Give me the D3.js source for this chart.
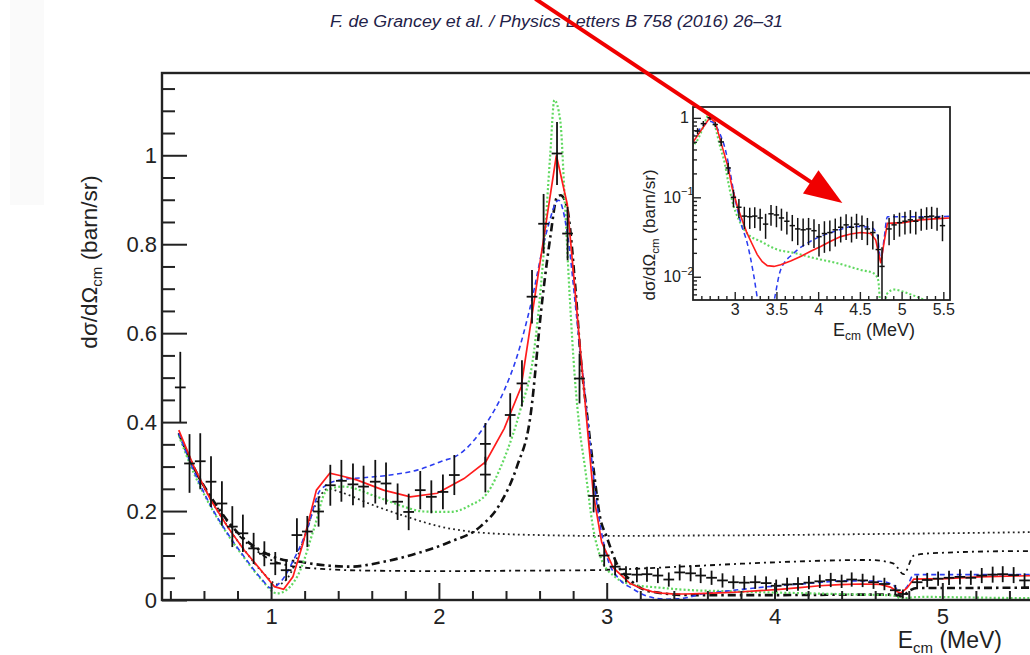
<!DOCTYPE html>
<html><head><meta charset="utf-8">
<script src="https://cdn.jsdelivr.net/npm/d3@7"></script>
<style>body{margin:0;background:#fff;overflow:hidden}svg{display:block}</style>
</head><body><svg id="c" width="1030" height="655"></svg>
<script>
// ---------------- data ----------------
const headerText = "F. de Grancey et al. / Physics Letters B 758 (2016) 26–31";

const dataE = [0.459,0.514,0.578,0.642,0.707,0.769,0.832,0.896,0.960,1.025,1.090,1.154,1.216,1.283,1.353,1.419,1.488,1.551,1.621,1.685,1.754,1.820,1.889,1.955,2.024,2.092,2.277,2.277,2.425,2.495,2.555,2.624,2.704,2.767,2.838,2.922,2.985,3.05,3.115,3.18,3.24,3.305,3.37,3.435,3.5,3.56,3.625,3.69,3.755,3.82,3.885,3.95,4.01,4.075,4.14,4.205,4.27,4.335,4.4,4.46,4.525,4.59,4.655,4.72,4.765,4.85,4.91,4.975,5.04,5.105,5.17,5.235,5.3,5.36,5.425,5.49];
const dataV = [0.478,0.307,0.312,0.266,0.217,0.165,0.150,0.116,0.104,0.082,0.067,0.146,0.154,0.199,0.258,0.268,0.260,0.255,0.266,0.262,0.221,0.198,0.247,0.232,0.243,0.281,0.351,0.282,0.416,0.487,0.682,0.846,1.004,0.824,0.498,0.234,0.10,0.075,0.058,0.057,0.058,0.055,0.046,0.062,0.060,0.055,0.050,0.044,0.040,0.039,0.040,0.038,0.032,0.035,0.036,0.039,0.042,0.045,0.042,0.046,0.044,0.040,0.036,0.022,0.0135,0.040,0.045,0.048,0.050,0.052,0.050,0.055,0.057,0.058,0.056,0.044];
const dataErr = [0.080,0.066,0.063,0.057,0.050,0.046,0.042,0.035,0.028,0.026,0.023,0.038,0.035,0.034,0.046,0.047,0.047,0.047,0.049,0.047,0.041,0.041,0.043,0.037,0.039,0.045,0.047,0.040,0.049,0.052,0.060,0.067,0.071,0.060,0.056,0.037,0.025,0.02,0.018,0.017,0.017,0.017,0.016,0.018,0.018,0.017,0.016,0.016,0.015,0.015,0.015,0.015,0.014,0.015,0.015,0.015,0.015,0.016,0.015,0.016,0.015,0.015,0.014,0.012,0.01,0.015,0.016,0.016,0.016,0.017,0.016,0.017,0.018,0.018,0.018,0.016];
const binHalf = 0.032;

const redE = [0.45,0.54,0.64,0.74,0.84,0.94,1.02,1.075,1.13,1.19,1.27,1.35,1.41,1.51,1.67,1.83,1.99,2.15,2.28,2.39,2.49,2.70,2.765,2.92,2.97,3.04,3.14,3.2,3.27,3.33,3.39,3.47,3.55,3.67,3.79,3.91,4.03,4.15,4.27,4.39,4.51,4.63,4.69,4.75,4.79,4.83,5.02,5.22,5.44,5.6];
const redV = [0.382,0.300,0.225,0.165,0.112,0.067,0.030,0.024,0.052,0.127,0.247,0.285,0.280,0.270,0.247,0.232,0.240,0.273,0.311,0.386,0.479,1.0,0.89,0.24,0.13,0.072,0.037,0.027,0.019,0.0155,0.0138,0.0135,0.0142,0.0158,0.018,0.021,0.024,0.028,0.032,0.0345,0.036,0.035,0.029,0.0148,0.027,0.047,0.048,0.052,0.054,0.055];

const blueE = [0.45,0.54,0.64,0.74,0.84,0.94,1.0,1.06,1.134,1.214,1.293,1.41,1.55,1.71,1.87,2.01,2.13,2.27,2.39,2.465,2.545,2.644,2.713,2.763,2.823,2.882,2.94,3.0,3.08,3.15,3.23,3.29,3.35,3.42,3.48,3.55,3.71,3.91,4.19,4.43,4.63,4.71,4.75,4.79,4.83,5.02,5.4,5.6];
const blueV = [0.375,0.29,0.212,0.15,0.097,0.049,0.027,0.042,0.09,0.157,0.247,0.27,0.275,0.281,0.292,0.311,0.33,0.39,0.472,0.547,0.66,0.831,0.899,0.831,0.629,0.42,0.22,0.1,0.045,0.0265,0.0101,0.004,0.0018,0.0025,0.0055,0.0122,0.0199,0.028,0.037,0.043,0.042,0.033,0.016,0.03,0.057,0.057,0.057,0.058];

const greenE = [0.45,0.54,0.64,0.74,0.84,0.94,1.035,1.1,1.174,1.253,1.333,1.43,1.631,1.79,1.909,2.068,2.187,2.287,2.386,2.485,2.565,2.624,2.664,2.688,2.723,2.75,2.78,2.81,2.84,2.87,2.92,2.97,3.05,3.15,3.31,3.51,3.71,3.95,4.23,4.51,4.67,4.72,4.75,4.78,4.83,4.91,5.07,5.22,5.4,5.6];
const greenV = [0.37,0.285,0.21,0.148,0.095,0.047,0.015,0.025,0.067,0.157,0.247,0.255,0.232,0.21,0.199,0.198,0.213,0.24,0.315,0.427,0.554,0.779,1.004,1.124,1.079,0.9,0.68,0.5,0.38,0.3,0.16,0.09,0.052,0.035,0.028,0.022,0.020,0.0172,0.0148,0.0122,0.011,0.009,0.004,0.004,0.0062,0.0069,0.0062,0.0054,0.0045,0.004];

const resE = [0.45,0.548,0.667,0.797,0.916,1.075,1.174,1.234,1.35,1.472,1.671,1.87,2.068,2.247,2.366,2.465,2.545,2.614,2.664,2.704,2.725,2.763,2.813,2.843,2.882,2.92,2.96,3.0,3.06,3.14,3.25,3.5,4.0,4.5,4.7,4.76,4.8,4.85,5.0,5.6];
const resV = [0.375,0.292,0.217,0.153,0.116,0.09,0.086,0.082,0.077,0.075,0.086,0.105,0.131,0.165,0.217,0.30,0.412,0.667,0.816,0.906,0.91,0.884,0.704,0.554,0.42,0.30,0.187,0.142,0.082,0.045,0.02,0.011,0.011,0.012,0.012,0.008,0.02,0.027,0.027,0.028];

const bgE = [0.45,0.548,0.667,0.797,0.916,1.0,1.1,1.3,1.6,2.0,2.5,2.9,3.44,3.95,4.57,4.71,4.77,4.83,4.93,5.48,5.6];
const bgV = [0.375,0.29,0.215,0.15,0.11,0.09,0.078,0.07,0.066,0.065,0.066,0.067,0.075,0.084,0.09,0.082,0.058,0.10,0.105,0.11,0.11];

const dotE = [0.45,0.55,0.65,0.75,0.85,0.95,1.04,1.1,1.18,1.26,1.34,1.41,1.61,1.81,2.008,2.207,2.406,2.604,2.962,3.5,4.0,4.5,5.0,5.6];
const dotV = [0.372,0.29,0.22,0.16,0.108,0.062,0.035,0.05,0.12,0.21,0.25,0.243,0.213,0.187,0.165,0.153,0.148,0.146,0.144,0.145,0.146,0.148,0.150,0.153];

const xMajor = [1,2,3,4,5], xLabels = ["1","2","3","4","5"];
const yMajor = [0,0.2,0.4,0.6,0.8,1], yLabels = ["0","0.2","0.4","0.6","0.8","1"];
const ixMajor = [3,3.5,4,4.5,5,5.5], ixLabels = ["3","3.5","4","4.5","5","5.5"];
const iyMajor = [0.01,0.1,1], iyBase = ["10","10","1"], iyExp = ["−2","−1",""];
const arrowTip = [4.29, 0.085]; // inset data coordinates

// ---------------- drawing ----------------
const FONT = "'Liberation Sans', Arial, Helvetica, sans-serif";
const svg = d3.select("#c");
svg.append("rect").attr("x",10).attr("y",0).attr("width",34).attr("height",205).attr("fill","#fafafa");

svg.append("text").attr("x",330).attr("y",27).attr("font-family",FONT).attr("font-style","italic")
  .attr("font-size",16).attr("fill","#1f2248").attr("textLength",453).attr("lengthAdjust","spacingAndGlyphs").text(headerText);

const x = d3.scaleLinear().domain([0.35,5.6]).range([162,1043]);
const y = d3.scaleLinear().domain([0,1.185]).range([600,73]);

svg.append("clipPath").attr("id","mclip").append("rect").attr("x",162).attr("y",73).attr("width",881).attr("height",527);
const plot = svg.append("g").attr("clip-path","url(#mclip)");

const styles = [
  {E:dotE,V:dotV,stroke:"#222",w:1.8,dash:"1.8,3.2",curve:d3.curveMonotoneX},
  {E:bgE,V:bgV,stroke:"#111",w:1.8,dash:"5,4,2,4",curve:d3.curveMonotoneX},
  {E:resE,V:resV,stroke:"#111",w:2.6,dash:"8,4,2.5,4",curve:d3.curveMonotoneX},
  {E:greenE,V:greenV,stroke:"#5fd85f",w:2.2,dash:"2,2.2",curve:d3.curveMonotoneX,inset:true},
  {E:blueE,V:blueV,stroke:"#2a3cf0",w:1.6,dash:"5,3.5",curve:d3.curveMonotoneX,inset:true},
  {E:redE,V:redV,stroke:"#ff1c1c",w:1.7,dash:null,curve:d3.curveLinear,inset:true}
];
styles.forEach(s=>{
  const line = d3.line().x(d=>x(d[0])).y(d=>y(d[1])).curve(s.curve);
  plot.append("path").attr("d",line(d3.zip(s.E,s.V))).attr("fill","none")
    .attr("stroke",s.stroke).attr("stroke-width",s.w).attr("stroke-dasharray",s.dash);
});

const pts = d3.zip(dataE,dataV,dataErr);
const dg = plot.append("g").attr("stroke","#111").attr("stroke-width",1.8);
pts.forEach(p=>{
  dg.append("line").attr("x1",x(p[0])).attr("x2",x(p[0])).attr("y1",y(p[1]-p[2])).attr("y2",y(p[1]+p[2]));
  dg.append("line").attr("x1",x(p[0]-binHalf)).attr("x2",x(p[0]+binHalf)).attr("y1",y(p[1])).attr("y2",y(p[1]));
});

// axes
const gy = svg.append("g").attr("transform","translate(162,0)")
  .call(d3.axisLeft(y).tickValues(yMajor).tickFormat((d,i)=>yLabels[i]).tickSize(-25).tickPadding(5));
const yMinor = d3.range(0.05,1.18,0.05).filter(d=>Math.abs(d*5-Math.round(d*5))>1e-6);
const gym = svg.append("g").attr("transform","translate(162,0)")
  .call(d3.axisLeft(y).tickValues(yMinor).tickFormat("").tickSize(-13));
const gx = svg.append("g").attr("transform","translate(0,600)")
  .call(d3.axisBottom(x).tickValues(xMajor).tickFormat((d,i)=>xLabels[i]).tickSize(-17).tickPadding(8));
const xMinor = d3.range(0.4,5.6,0.2).filter(d=>Math.abs(d-Math.round(d))>1e-6);
const gxm = svg.append("g").attr("transform","translate(0,600)")
  .call(d3.axisBottom(x).tickValues(xMinor).tickFormat("").tickSize(-9));
[gy,gym,gx,gxm].forEach(g=>{
  g.select(".domain").remove();
  g.attr("font-family",FONT).attr("font-size",22);
  g.selectAll("line").attr("stroke","#222").attr("stroke-width",2);
  g.selectAll("text").attr("fill","#222");
});
svg.append("rect").attr("x",162).attr("y",73).attr("width",881).attr("height",527)
  .attr("fill","none").attr("stroke","#222").attr("stroke-width",2.4);

// axis titles
const xt = svg.append("text").attr("x",1002).attr("y",648).attr("text-anchor","end")
  .attr("font-family",FONT).attr("font-size",23).attr("fill","#222");
xt.append("tspan").text("E");
xt.append("tspan").attr("font-size",15).attr("dy",5).text("cm");
xt.append("tspan").attr("dy",-5).text(" (MeV)");

const yt = svg.append("text").attr("transform","translate(97,262) rotate(-90)").attr("text-anchor","middle")
  .attr("font-family",FONT).attr("font-size",22.5).attr("fill","#222");
yt.append("tspan").text("dσ/dΩ");
yt.append("tspan").attr("font-size",15).attr("dy",5).text("cm");
yt.append("tspan").attr("dy",-5).text(" (barn/sr)");

// ---------------- inset ----------------
const ix = d3.scaleLinear().domain([2.5,5.58]).range([693,950]);
const iy = d3.scaleLog().domain([0.0051,1.37]).range([300,107]);
svg.append("rect").attr("x",693).attr("y",107).attr("width",257).attr("height",193).attr("fill","#fff");
svg.append("clipPath").attr("id","iclip").append("rect").attr("x",693).attr("y",107).attr("width",257).attr("height",193);
const ip = svg.append("g").attr("clip-path","url(#iclip)");
styles.filter(s=>s.inset).forEach(s=>{
  const line = d3.line().x(d=>ix(d[0])).y(d=>iy(d[1])).curve(s.curve);
  ip.append("path").attr("d",line(d3.zip(s.E,s.V))).attr("fill","none")
    .attr("stroke",s.stroke).attr("stroke-width",s.w*0.95).attr("stroke-dasharray",s.dash);
});
const idg = ip.append("g").attr("stroke","#111").attr("stroke-width",1.5);
pts.forEach(p=>{
  const lo = Math.max(p[1]-p[2],0.001);
  idg.append("line").attr("x1",ix(p[0])).attr("x2",ix(p[0])).attr("y1",iy(lo)).attr("y2",iy(p[1]+p[2]));
  idg.append("line").attr("x1",ix(p[0]-binHalf)).attr("x2",ix(p[0]+binHalf)).attr("y1",iy(p[1])).attr("y2",iy(p[1]));
});
const igx = svg.append("g").attr("transform","translate(0,300)")
  .call(d3.axisBottom(ix).tickValues(ixMajor).tickFormat((d,i)=>ixLabels[i]).tickSize(-8).tickPadding(4));
const igxm = svg.append("g").attr("transform","translate(0,300)")
  .call(d3.axisBottom(ix).tickValues(d3.range(2.6,5.58,0.1).filter(d=>Math.abs(d*2-Math.round(d*2))>1e-6)).tickFormat("").tickSize(-4));
const iyMinor = [];
[0.001,0.01,0.1].forEach(dec=>{for(let k=2;k<=9;k++){const v=k*dec; if(v>0.0051&&v<1.37) iyMinor.push(v);}});
const igym = svg.append("g").attr("transform","translate(693,0)")
  .call(d3.axisLeft(iy).tickValues(iyMinor).tickFormat("").tickSize(-4));
const igy = svg.append("g").attr("transform","translate(693,0)")
  .call(d3.axisLeft(iy).tickValues(iyMajor).tickFormat("").tickSize(-8));
[igx,igxm,igy,igym].forEach(g=>{
  g.select(".domain").remove();
  g.attr("font-family",FONT).attr("font-size",16);
  g.selectAll("line").attr("stroke","#222").attr("stroke-width",1.4);
  g.selectAll("text").attr("fill","#222");
});
iyMajor.forEach((v,i)=>{
  svg.append("text").attr("x",iyExp[i]?681:689).attr("y",iy(v)+5.5).attr("text-anchor","end")
    .attr("font-family",FONT).attr("font-size",16).attr("fill","#222").text(iyBase[i]);
  if(iyExp[i]) svg.append("text").attr("x",681).attr("y",iy(v)-2).attr("font-family",FONT)
    .attr("font-size",11).attr("fill","#222").text(iyExp[i]);
});
svg.append("rect").attr("x",693).attr("y",107).attr("width",257).attr("height",193)
  .attr("fill","none").attr("stroke","#222").attr("stroke-width",1.8);
const ixt = svg.append("text").attr("x",915).attr("y",336).attr("text-anchor","end")
  .attr("font-family",FONT).attr("font-size",18).attr("fill","#222");
ixt.append("tspan").text("E");
ixt.append("tspan").attr("font-size",12).attr("dy",4).text("cm");
ixt.append("tspan").attr("dy",-4).text(" (MeV)");
const iyt = svg.append("text").attr("transform","translate(655,235) rotate(-90)").attr("text-anchor","middle")
  .attr("font-family",FONT).attr("font-size",17).attr("fill","#222");
iyt.append("tspan").text("dσ/dΩ");
iyt.append("tspan").attr("font-size",11.5).attr("dy",4).text("cm");
iyt.append("tspan").attr("dy",-4).text(" (barn/sr)");

// ---------------- red arrow annotation ----------------
const T = [ix(arrowTip[0]), iy(arrowTip[1])];
const S = [T[0]-307, T[1]-204];
const L = Math.hypot(T[0]-S[0],T[1]-S[1]);
const u = [(T[0]-S[0])/L,(T[1]-S[1])/L], n = [-u[1],u[0]];
const B = [T[0]-38*u[0], T[1]-38*u[1]];
svg.append("line").attr("x1",S[0]).attr("y1",S[1]).attr("x2",B[0]+4*u[0]).attr("y2",B[1]+4*u[1])
  .attr("stroke","#f00000").attr("stroke-width",4);
svg.append("path").attr("d",d3.line()([[T[0],T[1]],[B[0]+14*n[0],B[1]+14*n[1]],[B[0]-14*n[0],B[1]-14*n[1]]])+"Z")
  .attr("fill","#f00000");
</script></body></html>
